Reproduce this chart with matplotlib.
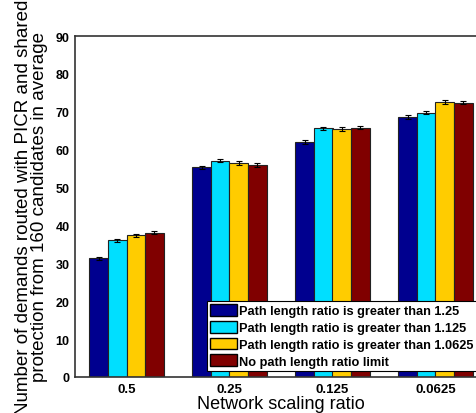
import numpy as np
import matplotlib
matplotlib.use("Agg")
import matplotlib.pyplot as plt

plt.rcParams["font.family"] = ["Liberation Sans", "DejaVu Sans"]

groups = ["0.5", "0.25", "0.125", "0.0625"]
series_names = [
    "Path length ratio is greater than 1.25",
    "Path length ratio is greater than 1.125",
    "Path length ratio is greater than 1.0625",
    "No path length ratio limit",
]
vals_125 = [31.3, 55.3, 62.0, 68.6]
vals_1125 = [36.1, 57.1, 65.6, 69.8]
vals_10625 = [37.4, 56.5, 65.5, 72.6]
vals_nolimit = [38.1, 55.9, 65.8, 72.4]
errs = [0.45, 0.45, 0.45, 0.45]
colors = ["#00008F", "#00DFFF", "#FFCC00", "#800000"]


def main():
    fig = plt.figure(figsize=(4.76, 4.14), dpi=100)
    ax = fig.add_axes([75 / 476, 36 / 414, 412 / 476, 341 / 414])
    x = np.arange(1, len(groups) + 1)
    w = 0.18
    allvals = [vals_125, vals_1125, vals_10625, vals_nolimit]
    for k, (v, c, name) in enumerate(zip(allvals, colors, series_names)):
        ax.bar(x + (k - 1.5) * w, v, w, color=c, edgecolor="#222222", linewidth=0.8,
               yerr=errs, capsize=2.5, error_kw=dict(ecolor="black", elinewidth=0.8, capthick=0.8),
               label=name)
    ax.set_xlim(0.5, 4.5)
    ax.set_ylim(0, 90)
    ax.set_xticks(x)
    ax.set_xticklabels(groups, fontsize=9.5, fontweight="bold")
    ax.set_yticks(np.arange(0, 91, 10))
    for t in ax.get_yticklabels():
        t.set_fontsize(9)
        t.set_fontweight("bold")
    ax.tick_params(direction="in", length=0, pad=4)
    for s in ax.spines.values():
        s.set_linewidth(1.2)
        s.set_color("#333333")
    ax.set_xlabel("Network scaling ratio", fontsize=13, labelpad=0)
    ax.set_ylabel("Number of demands routed with PICR and shared\nprotection from 160 candidates in average",
                  fontsize=13.5, labelpad=5, linespacing=0.95)
    leg = ax.legend(loc="lower left", bbox_to_anchor=(0.32, 0.018), fancybox=False,
                    framealpha=1, edgecolor="black", prop=dict(size=9.2, weight="bold"),
                    handlelength=2.1, handleheight=1.05, handletextpad=0.2,
                    borderpad=0.25, labelspacing=0.28, borderaxespad=0)
    leg.get_frame().set_linewidth(0.8)
    for p in leg.get_patches():
        p.set_edgecolor("black")
        p.set_linewidth(1.0)
    fig.savefig("out.png", dpi=100)


if __name__ == "__main__":
    main()
